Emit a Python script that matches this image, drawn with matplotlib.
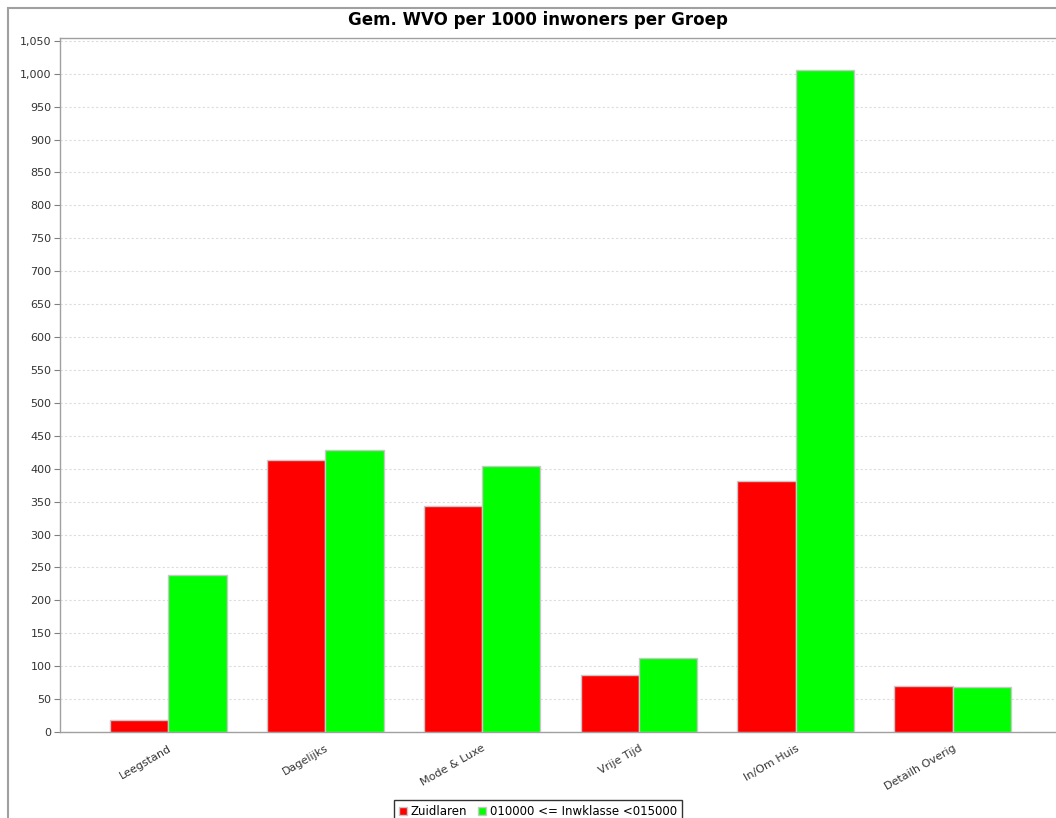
import matplotlib.pyplot as plt
import matplotlib.ticker as mticker
from matplotlib.patches import Rectangle, Patch
import numpy as np

groepen = ['Leegstand', 'Dagelijks', 'Mode & Luxe', 'Vrije Tijd', 'In/Om Huis', 'Detailh Overig']
zuidlaren = [18, 413, 344, 87, 381, 70]
inwklasse = [238, 429, 404, 112, 1005, 68]
series_names = ['Zuidlaren', '010000 <= Inwklasse <015000']

W, H = 1056, 818
fig = plt.figure(figsize=(W / 100, H / 100), dpi=100)

# chart border (runs off the right and bottom edge)
fig.patches.append(Rectangle((8 / W, -0.1), 1.2, 1 - 8 / H + 0.1, transform=fig.transFigure,
                             fill=False, edgecolor='#a0a0a0', linewidth=1.5))

ax = fig.add_axes([60 / W, 1 - 732 / H, (1061 - 60) / W, (732 - 37.5) / H])

x = np.arange(len(groepen))
bw = 0.3726
ax.bar(x - bw / 2, zuidlaren, bw, color='#ff0000', edgecolor='#c8c8c8', linewidth=1, zorder=3)
ax.bar(x + bw / 2, inwklasse, bw, color='#00ff00', edgecolor='#c8c8c8', linewidth=1, zorder=3)

ax.set_xlim(-0.688, len(groepen) - 1 + 0.688)
ax.set_ylim(0, 1055)
ax.yaxis.set_major_locator(mticker.MultipleLocator(50))
ax.yaxis.set_major_formatter(mticker.FuncFormatter(lambda v, p: f'{int(v):,}'))
ax.grid(axis='y', color='#dcdcdc', linestyle=(0, (2, 2)), linewidth=0.8, zorder=0)

ax.set_xticks(x)
ax.set_xticklabels(groepen, rotation=30, ha='right', va='top', rotation_mode='anchor', fontsize=8)
ax.tick_params(axis='x', length=0, pad=8, labelcolor='#333333')
ax.tick_params(axis='y', labelsize=8, length=4, color='#808080', pad=2, labelcolor='#333333')

for s in ax.spines.values():
    s.set_color('#a0a0a0')
    s.set_linewidth(1)

fig.text(538 / W, 1 - 20 / H, 'Gem. WVO per 1000 inwoners per Groep', ha='center', va='center',
         fontsize=12, fontweight='bold')

handles = [Patch(facecolor='#ff0000', edgecolor='#c8c8c8'), Patch(facecolor='#00ff00', edgecolor='#c8c8c8')]
leg = fig.legend(handles, series_names, loc='upper center', bbox_to_anchor=(538 / W, 1 - 800 / H),
                 ncol=2, fontsize=8.5, frameon=True, fancybox=False, edgecolor='black',
                 handlelength=0.7, handleheight=0.7, handletextpad=0.3, columnspacing=0.9,
                 borderpad=0.45, borderaxespad=0)
leg.get_frame().set_linewidth(1)

fig.savefig('out.png', dpi=100)
